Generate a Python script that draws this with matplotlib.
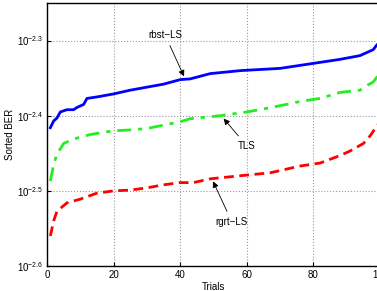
import matplotlib
matplotlib.use("Agg")
import matplotlib.pyplot as plt
import numpy as np

plt.rcParams["font.family"] = ["Liberation Sans", "DejaVu Sans"]
plt.rcParams["mathtext.fontset"] = "custom"
plt.rcParams["mathtext.rm"] = "Liberation Sans"

# ---------------------------------------------------------------------------
# Data (log10 of sorted BER per trial)
# ---------------------------------------------------------------------------
rbst_trials = [1, 2, 3, 4, 6, 8, 9, 11, 12, 15, 20, 25, 30, 35, 40, 43, 49,
               58, 70, 76, 82, 88, 94, 96, 98, 99, 100]
rbst_log = [-2.416, -2.407, -2.403, -2.395, -2.392, -2.392, -2.389, -2.385,
            -2.377, -2.375, -2.371, -2.366, -2.362, -2.358, -2.352, -2.351,
            -2.344, -2.340, -2.337, -2.333, -2.329, -2.325, -2.320, -2.316,
            -2.312, -2.306, -2.302]

tls_trials = [1, 2, 3, 5, 8, 13, 20, 25, 30, 40, 43, 52, 60, 65, 73, 76, 82,
              88, 94, 96, 98, 99, 100]
tls_log = [-2.487, -2.465, -2.451, -2.437, -2.431, -2.425, -2.420, -2.419,
           -2.417, -2.408, -2.404, -2.400, -2.395, -2.391, -2.384, -2.381,
           -2.377, -2.369, -2.366, -2.360, -2.355, -2.349, -2.346]

rgrt_trials = [1, 2, 3, 6, 10, 15, 20, 25, 30, 35, 40, 44, 49, 60, 67, 76,
               82, 88, 91, 95, 97, 99, 100]
rgrt_log = [-2.560, -2.540, -2.527, -2.516, -2.511, -2.503, -2.500, -2.499,
            -2.496, -2.492, -2.489, -2.489, -2.484, -2.479, -2.476, -2.467,
            -2.463, -2.453, -2.447, -2.437, -2.427, -2.414, -2.408]

x_ticks = [0, 20, 40, 60, 80, 100]
y_exps = [-2.6, -2.5, -2.4, -2.3]

fig = plt.figure(figsize=(3.77, 2.91), dpi=100)
ax = fig.add_axes([47 / 377, 25 / 291, 333 / 377, 263 / 291])

ax.semilogy(rbst_trials, np.power(10.0, rbst_log), "-", color="#0000ff", lw=2)
ax.semilogy(tls_trials, np.power(10.0, tls_log), "-.", color="#22ee22", lw=2,
            dashes=(5, 2.5, 1.5, 2.5))
ax.semilogy(rgrt_trials, np.power(10.0, rgrt_log), "--", color="#ff0000", lw=2,
            dashes=(3.5, 2))

ax.set_xlim(0, 100)
ax.set_ylim(10 ** -2.6, 10 ** -2.25)
ax.set_xticks(x_ticks)
ax.set_xticklabels([str(t) for t in x_ticks])
ax.set_yticks([10 ** e for e in y_exps])
ax.set_yticklabels([r"$10^{%g}$" % e for e in y_exps])
ax.minorticks_off()
ax.tick_params(direction="in", length=3, labelsize=7, pad=3)
ax.grid(True, linestyle=":", color="#999999", linewidth=0.8)
for sp in ax.spines.values():
    sp.set_linewidth(1.0)

ax.set_xlabel("Trials", fontsize=7, labelpad=1)
ax.set_ylabel("Sorted BER", fontsize=7, labelpad=1)

arrow = dict(arrowstyle="-|>", color="black", lw=0.6, mutation_scale=9)
ax.annotate("rbst\u2212LS", xy=(41.5, 10 ** -2.351), xytext=(35.5, 10 ** -2.293),
            fontsize=7, ha="center", va="center", arrowprops=arrow)
ax.annotate("TLS", xy=(52.5, 10 ** -2.401), xytext=(60, 10 ** -2.44),
            fontsize=7, ha="center", va="center", arrowprops=arrow)
ax.annotate("rgrt\u2212LS", xy=(49.5, 10 ** -2.484), xytext=(55.5, 10 ** -2.541),
            fontsize=7, ha="center", va="center", arrowprops=arrow)

fig.savefig("out.png", dpi=100)
